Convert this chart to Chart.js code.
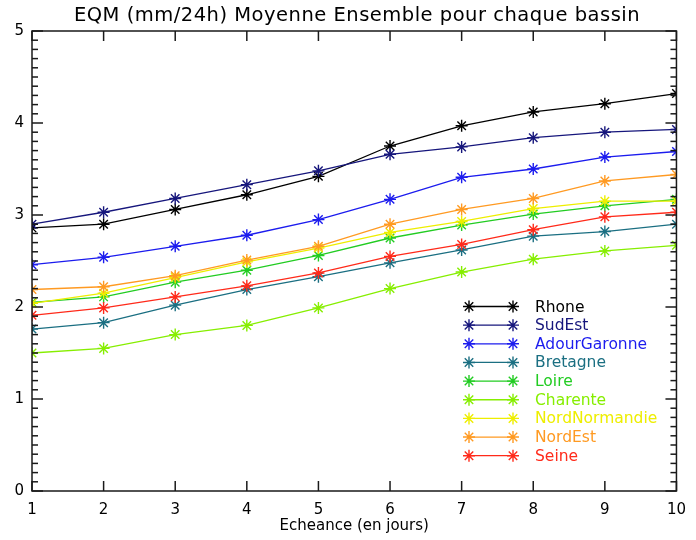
<!DOCTYPE html>
<html>
<head>
<meta charset="utf-8">
<script src="https://cdn.jsdelivr.net/npm/chart.js@4/dist/chart.umd.min.js"></script>
<style>
html,body{margin:0;padding:0;background:#fff;}
</style>
</head>
<body>
<canvas id="c" width="696" height="540"></canvas>
<script>
const titleText = "EQM (mm/24h) Moyenne Ensemble pour chaque bassin";
const xTitle = "Echeance (en jours)";
const days = [1, 2, 3, 4, 5, 6, 7, 8, 9, 10];
const yTicks = [0, 1, 2, 3, 4, 5];

const seriesNames = ["Rhone", "SudEst", "AdourGaronne", "Bretagne", "Loire", "Charente", "NordNormandie", "NordEst", "Seine"];
const seriesColors = ["#000000", "#16167c", "#1c1cee", "#1b6f82", "#22cc22", "#86ee00", "#eeee00", "#ff9a22", "#ff2a1a"];

const rhone         = [2.86, 2.90, 3.06, 3.22, 3.42, 3.75, 3.97, 4.12, 4.21, 4.32];
const sudEst        = [2.90, 3.03, 3.18, 3.33, 3.48, 3.66, 3.74, 3.84, 3.90, 3.93];
const adourGaronne  = [2.46, 2.54, 2.66, 2.78, 2.95, 3.17, 3.41, 3.50, 3.63, 3.69];
const bretagne      = [1.76, 1.83, 2.02, 2.19, 2.33, 2.48, 2.62, 2.77, 2.82, 2.90];
const loire         = [2.05, 2.11, 2.27, 2.40, 2.56, 2.75, 2.89, 3.01, 3.10, 3.17];
const charente      = [1.50, 1.55, 1.70, 1.80, 1.99, 2.20, 2.38, 2.52, 2.61, 2.67];
const nordNormandie = [2.04, 2.15, 2.32, 2.49, 2.64, 2.81, 2.93, 3.07, 3.15, 3.15];
const nordEst       = [2.19, 2.22, 2.34, 2.51, 2.66, 2.90, 3.06, 3.18, 3.37, 3.44];
const seine         = [1.91, 1.99, 2.11, 2.23, 2.37, 2.55, 2.68, 2.84, 2.98, 3.03];

const allSeries = [rhone, sudEst, adourGaronne, bretagne, loire, charente, nordNormandie, nordEst, seine];

const FONT = "'DejaVu Sans', sans-serif";

const datasets = allSeries.map((vals, i) => ({
  label: seriesNames[i],
  data: days.map((d, j) => ({x: d, y: vals[j]})),
  borderColor: seriesColors[i],
  backgroundColor: seriesColors[i],
  borderWidth: 1.3,
  pointStyle: 'star',
  pointRadius: 6,
  pointBorderWidth: 1.4,
  pointBorderColor: seriesColors[i],
  tension: 0,
  fill: false,
  clip: 0,
  order: allSeries.length - i
}));

const framePlugin = {
  id: 'frame',
  afterDatasetsDraw(chart) {
    const ctx = chart.ctx;
    const a = chart.chartArea;
    const xs = chart.scales.x, ys = chart.scales.y;
    ctx.save();
    ctx.strokeStyle = '#1a1a1a';
    ctx.lineWidth = 1.5;
    ctx.beginPath();
    ctx.moveTo(a.left, a.top); ctx.lineTo(a.right, a.top); ctx.lineTo(a.right, a.bottom); ctx.lineTo(a.left, a.bottom); ctx.closePath();
    ctx.stroke();

    for (let k = 0; k <= 50; k++) {
      const y = ys.getPixelForValue(k / 10);
      const len = (k % 10 === 0) ? 11 : 6;
      ctx.beginPath(); ctx.moveTo(a.left, y); ctx.lineTo(a.left + len, y); ctx.stroke();
      ctx.beginPath(); ctx.moveTo(a.right, y); ctx.lineTo(a.right - len, y); ctx.stroke();
    }
    for (let j = 0; j < days.length; j++) {
      const x = xs.getPixelForValue(days[j]);
      ctx.beginPath(); ctx.moveTo(x, a.bottom); ctx.lineTo(x, a.bottom - 10); ctx.stroke();
      ctx.beginPath(); ctx.moveTo(x, a.top); ctx.lineTo(x, a.top + 10); ctx.stroke();
    }

    // title
    ctx.fillStyle = '#000';
    ctx.font = '19.5px ' + FONT;
    ctx.textAlign = 'center';
    ctx.textBaseline = 'middle';
    try { ctx.letterSpacing = '0.5px'; } catch (e) {}
    ctx.fillText(titleText, 357, 16);
    try { ctx.letterSpacing = '0px'; } catch (e) {}

    // legend
    const lx0 = 469, lx1 = 513, tx = 535, ly0 = 306.5, dy = 18.65;
    ctx.font = '15.5px ' + FONT;
    ctx.textAlign = 'left';
    chart.data.datasets.forEach((ds, i) => {
      const y = ly0 + i * dy;
      ctx.strokeStyle = ds.borderColor;
      ctx.lineWidth = 1.3;
      ctx.beginPath();
      ctx.moveTo(lx0, y); ctx.lineTo(lx1, y);
      ctx.stroke();
      ctx.lineWidth = 1.4;
      const po = {pointStyle: 'star', radius: 6, rotation: 0, borderWidth: 1.4};
      Chart.helpers.drawPoint(ctx, po, lx0, y);
      Chart.helpers.drawPoint(ctx, po, lx1, y);
      ctx.fillStyle = ds.borderColor;
      ctx.fillText(ds.label, tx, y + 1);
    });
    ctx.restore();
  }
};

new Chart(document.getElementById('c'), {
  type: 'line',
  data: {datasets},
  options: {
    responsive: false,
    animation: false,
    layout: {padding: {top: 31, right: 10, left: 0, bottom: 0}},
    plugins: {legend: {display: false}, title: {display: false}, tooltip: {enabled: false}},
    scales: {
      x: {
        type: 'linear', min: 1, max: 10,
        afterBuildTicks(s) { s.ticks = days.map(v => ({value: v})); },
        ticks: {color: '#000', font: {family: FONT, size: 15}, padding: 10, maxRotation: 0},
        grid: {display: false, drawTicks: false},
        border: {display: false},
        title: {display: true, text: xTitle, color: '#000', font: {family: FONT, size: 15}, padding: {top: 0, bottom: 5}},
        afterFit(s) { s.height = 49; }
      },
      y: {
        type: 'linear', min: 0, max: 5,
        afterBuildTicks(s) { s.ticks = yTicks.map(v => ({value: v})); },
        ticks: {color: '#000', font: {family: FONT, size: 15}, padding: 8},
        grid: {display: false, drawTicks: false},
        border: {display: false},
        afterFit(s) { s.width = 32; }
      }
    }
  },
  plugins: [framePlugin]
});
</script>
</body>
</html>
